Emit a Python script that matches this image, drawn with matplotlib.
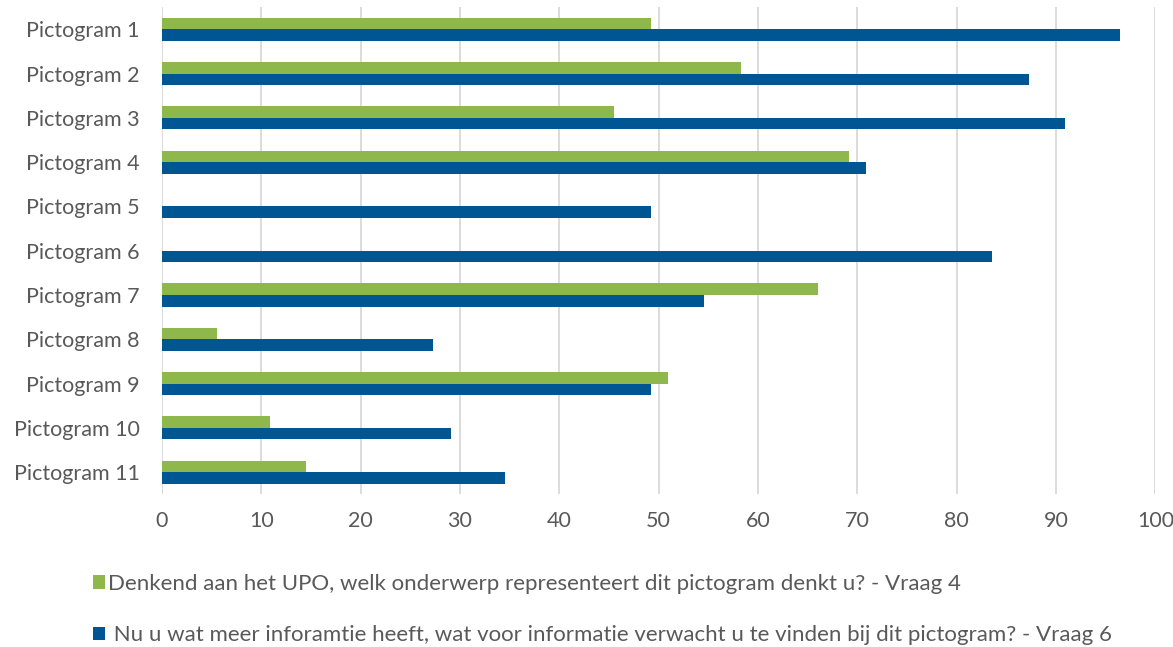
import matplotlib.pyplot as plt
import numpy as np

plt.rcParams['font.family'] = ['Lato', 'DejaVu Sans']

categories = ['Pictogram 1', 'Pictogram 2', 'Pictogram 3', 'Pictogram 4', 'Pictogram 5',
              'Pictogram 6', 'Pictogram 7', 'Pictogram 8', 'Pictogram 9', 'Pictogram 10',
              'Pictogram 11']
vraag4 = [49.2, 58.3, 45.5, 69.2, 0, 0, 66.0, 5.5, 50.9, 10.9, 14.5]
vraag6 = [96.4, 87.3, 90.9, 70.9, 49.2, 83.6, 54.6, 27.3, 49.2, 29.1, 34.5]
label4 = 'Denkend aan het UPO, welk onderwerp representeert dit pictogram denkt u? - Vraag 4'
label6 = ' Nu u wat meer inforamtie heeft, wat voor informatie verwacht u te vinden bij dit pictogram? - Vraag 6'
xticks = np.arange(0, 101, 10)

green = '#8fb84c'
blue = '#005593'
text_col = '#595959'

fig = plt.figure(figsize=(11.73, 6.47), dpi=100)
ax = fig.add_axes([0.138, 0.236, 0.847, 0.753])

y = np.arange(len(categories))
h = 0.26
ax.barh(y - h / 2, vraag4, height=h, color=green, label=label4, zorder=3)
ax.barh(y + h / 2, vraag6, height=h, color=blue, label=label6, zorder=3)

ax.set_xlim(0, 100)
ax.set_ylim(len(categories) - 0.5, -0.5)
ax.set_xticks(xticks)
ax.set_yticks(y)
ax.set_yticklabels(categories)
ax.tick_params(axis='both', length=0, labelsize=15.5, colors=text_col)
ax.tick_params(axis='x', pad=12)
ax.tick_params(axis='y', pad=16)
ax.xaxis.grid(True, color='#d9d9d9', linewidth=1.3, zorder=0)
for s in ax.spines.values():
    s.set_visible(False)

fig.legend(loc='lower left', bbox_to_anchor=(0.062, -0.028), ncol=1, frameon=False,
           fontsize=16, labelcolor=text_col, handlelength=0.55, handleheight=0.55,
           handletextpad=0.15, labelspacing=1.4)

fig.savefig('out.png', dpi=100)
